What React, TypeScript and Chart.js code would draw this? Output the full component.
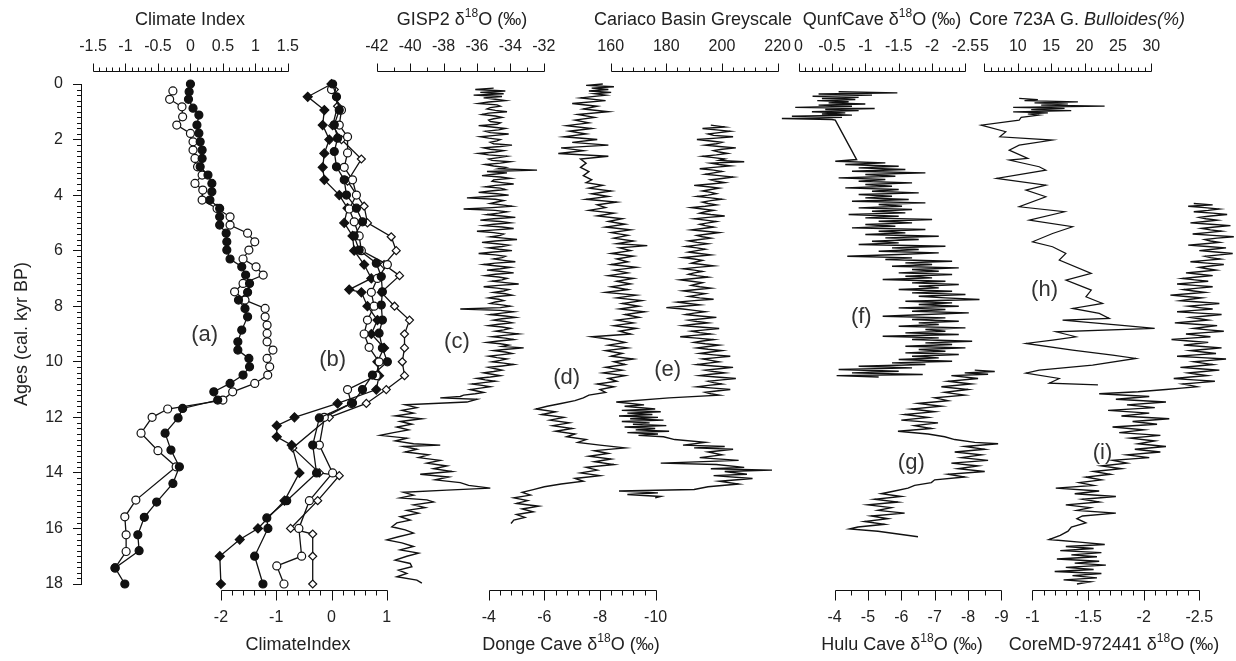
import React, { useEffect, useRef } from 'react';
import { Chart, registerables } from 'chart.js';
Chart.register(...registerables);

type P = [number, number]; // [age (kyr BP), value]

// ---------- (a) Climate Index (top axis) ----------
const climateA_filled: P[] = [[0.0,0.0],[0.28,-0.02],[0.55,-0.03],[0.87,0.04],[1.12,0.13],[1.48,0.1],[1.77,0.13],[2.08,0.15],[2.38,0.18],[2.68,0.18],[2.98,0.15],[3.28,0.27],[3.58,0.33],[3.88,0.33],[4.18,0.3],[4.48,0.45],[4.78,0.45],[5.08,0.45],[5.37,0.55],[5.68,0.56],[5.98,0.56],[6.3,0.61],[6.58,0.79],[6.88,0.85],[7.18,0.91],[7.5,0.88],[7.78,0.74],[8.08,0.84],[8.38,0.88],[8.86,0.79],[9.28,0.73],[9.58,0.73],[9.88,0.9],[10.18,0.91],[10.48,0.81],[10.78,0.61],[11.08,0.36],[11.38,0.42],[11.68,-0.12],[12.02,-0.19],[12.57,-0.39],[13.18,-0.3],[13.78,-0.17],[14.38,-0.27],[15.05,-0.52],[15.6,-0.71],[16.23,-0.81],[16.8,-0.79],[17.42,-1.16],[18.0,-1.01]];
const climateA_open: P[] = [[0.25,-0.27],[0.55,-0.32],[0.82,-0.13],[1.18,-0.12],[1.48,-0.21],[1.78,0.0],[2.08,0.04],[2.38,0.04],[2.68,0.07],[2.98,0.11],[3.28,0.18],[3.58,0.07],[3.82,0.19],[4.18,0.18],[4.48,0.41],[4.78,0.61],[5.08,0.61],[5.37,0.88],[5.68,0.99],[5.98,0.9],[6.3,0.81],[6.58,1.01],[6.88,1.12],[7.18,0.81],[7.48,0.68],[7.78,0.84],[8.08,1.15],[8.38,1.15],[8.68,1.18],[8.98,1.18],[9.28,1.18],[9.58,1.27],[9.88,1.18],[10.18,1.22],[10.48,1.19],[10.78,0.99],[11.08,0.65],[11.38,0.5],[11.7,-0.35],[12.0,-0.59],[12.57,-0.76],[13.2,-0.5],[13.78,-0.22],[14.98,-0.84],[15.58,-1.01],[16.23,-0.99],[16.83,-0.99],[17.42,-1.16]];

// ---------- (b) ClimateIndex (bottom axis) ----------
const climateB_filledCircle: P[] = [[0.0,0.02],[0.46,0.09],[0.94,0.14],[1.47,0.05],[1.95,0.11],[2.43,0.05],[2.98,0.09],[3.45,0.23],[4.0,0.27],[4.47,0.45],[4.96,0.56],[5.47,0.41],[5.98,0.5],[6.45,0.81],[6.93,0.9],[7.48,0.92],[7.96,0.9],[8.5,0.92],[8.97,0.86],[9.5,0.92],[10.0,1.01],[10.48,0.74],[11.0,0.56],[11.48,0.38],[12.02,-0.22],[13.0,-0.34],[14.0,-0.27],[15.0,-0.81],[15.62,-1.17],[16.0,-1.15],[17.0,-1.39],[18.0,-1.24]];
const climateB_openCircle: P[] = [[0.2,0.0],[0.94,0.18],[1.48,0.14],[1.9,0.29],[2.48,0.29],[3.0,0.23],[3.45,0.38],[4.0,0.45],[4.5,0.32],[4.96,0.41],[5.47,0.5],[6.0,0.54],[6.5,1.01],[7.0,0.83],[7.5,0.72],[8.0,0.77],[8.5,0.65],[9.0,0.59],[9.48,0.68],[10.0,0.86],[10.5,0.81],[11.0,0.29],[11.5,0.36],[12.0,-0.13],[13.0,-0.22],[14.0,0.02],[15.0,-0.4],[16.0,-0.59],[17.0,-0.54],[17.35,-0.99],[18.0,-0.86]];
const climateB_filledDiamond: P[] = [[0.0,0.0],[0.46,-0.43],[0.94,-0.13],[1.48,-0.16],[2.0,-0.04],[2.5,-0.13],[3.0,-0.16],[3.45,-0.13],[4.0,0.14],[4.47,0.29],[5.0,0.23],[5.47,0.38],[6.0,0.41],[6.5,0.59],[7.0,0.72],[7.4,0.32],[7.5,0.54],[8.0,0.65],[8.5,0.83],[9.0,0.72],[9.5,0.95],[10.0,0.83],[10.5,0.86],[11.0,0.81],[11.5,0.11],[12.0,-0.67],[12.3,-0.99],[12.7,-0.99],[13.0,-0.72],[14.0,-0.58],[15.0,-0.85],[16.0,-1.33],[16.4,-1.66],[17.0,-2.02],[18.0,-2.0]];
const climateB_openDiamond: P[] = [[0.2,0.05],[0.8,0.11],[1.5,0.02],[2.0,0.18],[2.7,0.54],[3.5,0.29],[4.4,0.59],[5.0,0.65],[5.5,1.08],[6.0,1.17],[6.5,0.95],[6.9,1.23],[7.5,0.9],[8.0,1.14],[8.5,1.41],[9.0,1.32],[9.5,1.32],[10.0,1.28],[10.5,1.32],[11.0,0.99],[11.5,0.63],[12.0,-0.04],[13.1,-0.7],[14.0,-0.22],[14.1,0.14],[15.0,-0.25],[16.0,-0.74],[16.2,-0.34],[17.0,-0.34],[18.0,-0.34]];

// ---------- (c) GISP2 d18O ----------
const gisp2Main: P[] = [[0.15,-35.0],[0.2,-36.1],[0.25,-34.3],[0.3,-35.8],[0.35,-34.4],[0.4,-36.2],[0.45,-34.5],[0.5,-35.6],[0.6,-34.3],[0.7,-35.9],[0.8,-34.6],[0.9,-35.4],[1.0,-34.2],[1.1,-35.7],[1.2,-34.5],[1.3,-35.3],[1.4,-34.6],[1.5,-35.9],[1.6,-34.3],[1.7,-35.5],[1.8,-34.1],[1.9,-35.8],[2.0,-34.6],[2.1,-35.2],[2.2,-33.9],[2.3,-35.6],[2.4,-34.4],[2.5,-35.9],[2.6,-34.2],[2.7,-35.3],[2.8,-34.0],[2.9,-35.5],[3.0,-34.3],[3.1,-32.4],[3.15,-35.4],[3.2,-34.2],[3.3,-35.7],[3.4,-34.0],[3.5,-35.1],[3.6,-33.8],[3.7,-35.5],[3.8,-34.3],[3.9,-35.9],[4.0,-34.1],[4.1,-36.6],[4.2,-34.4],[4.3,-35.2],[4.4,-33.9],[4.5,-36.8],[4.6,-34.2],[4.7,-35.4],[4.8,-33.7],[4.9,-35.8],[5.0,-34.0],[5.1,-35.6],[5.2,-33.8],[5.3,-36.0],[5.4,-34.4],[5.5,-35.2],[5.6,-33.6],[5.7,-35.7],[5.8,-34.1],[5.9,-35.3],[6.0,-33.9],[6.1,-35.9],[6.2,-34.3],[6.3,-35.0],[6.4,-33.7],[6.5,-35.6],[6.6,-34.0],[6.7,-35.4],[6.8,-33.8],[6.9,-35.5],[7.0,-34.2],[7.1,-35.1],[7.2,-33.5],[7.3,-35.6],[7.4,-34.1],[7.5,-35.0],[7.6,-33.9],[7.7,-35.3],[7.8,-34.4],[7.9,-35.2],[8.0,-34.0],[8.1,-37.0],[8.15,-34.6],[8.2,-33.8],[8.3,-35.2],[8.4,-33.7],[8.5,-35.0],[8.6,-33.9],[8.7,-35.3],[8.8,-34.0],[8.9,-34.9],[9.0,-33.5],[9.1,-35.1],[9.2,-33.8],[9.3,-35.4],[9.4,-34.1],[9.5,-33.2],[9.6,-35.0],[9.7,-33.9],[9.8,-35.3],[9.9,-34.2],[10.0,-35.1],[10.1,-33.8],[10.2,-35.3],[10.3,-34.5],[10.4,-35.6],[10.5,-34.6],[10.6,-36.0],[10.7,-34.9],[10.8,-36.3],[10.9,-35.2],[11.0,-36.4],[11.1,-35.6],[11.2,-36.8],[11.3,-38.2],[11.35,-36.0],[11.45,-36.6],[11.55,-40.3],[11.65,-39.6],[11.75,-40.5],[11.85,-39.8],[11.95,-40.9],[12.05,-39.3],[12.15,-40.6],[12.25,-39.9],[12.35,-40.8],[12.45,-40.1],[12.55,-41.0],[12.65,-41.8],[12.75,-40.2],[12.85,-40.9],[12.95,-39.8],[13.0,-38.2],[13.05,-40.4],[13.15,-39.6],[13.25,-40.3],[13.35,-38.9],[13.45,-39.5],[13.55,-38.2],[13.65,-39.0],[13.75,-37.8],[13.85,-38.6],[13.95,-37.5],[14.05,-39.4],[14.15,-37.7],[14.25,-38.5],[14.35,-37.0],[14.45,-36.5],[14.55,-35.2],[14.62,-37.8],[14.7,-40.4],[14.8,-39.8],[14.9,-40.6],[14.97,-39.0],[15.05,-38.6],[15.15,-39.8],[15.25,-39.1],[15.35,-40.2],[15.45,-39.5],[15.58,-40.6],[15.7,-40.0],[15.8,-40.8],[15.94,-41.1],[16.05,-40.3],[16.17,-39.8],[16.3,-40.7],[16.41,-41.4],[16.52,-40.5],[16.65,-39.8],[16.77,-40.6],[16.89,-39.5],[17.0,-40.2],[17.14,-40.9],[17.26,-40.0],[17.38,-39.9],[17.5,-40.7],[17.62,-40.2],[17.74,-40.8],[17.86,-39.6],[17.97,-39.3]];
const gisp2Mid: P[] = [[0.55,-34.9],[0.65,-35.3],[0.75,-34.8],[0.85,-35.2],[0.95,-34.9],[1.05,-35.3],[1.15,-34.9],[1.25,-35.0],[1.35,-35.2],[1.45,-34.8],[1.55,-35.1],[1.65,-34.7],[1.75,-35.2],[1.85,-34.9],[1.95,-35.3],[2.05,-34.8],[2.15,-35.0],[2.25,-34.6],[2.35,-35.2],[2.45,-34.9],[2.55,-35.3],[2.65,-34.7],[2.75,-35.1],[2.85,-34.6],[2.95,-35.0],[3.05,-34.7],[3.25,-35.0],[3.35,-34.6],[3.45,-35.0],[3.55,-34.5],[3.65,-34.9],[3.75,-34.6],[3.85,-35.2],[3.95,-34.8],[4.05,-35.3],[4.15,-34.9],[4.25,-34.8],[4.35,-34.5],[4.45,-35.1],[4.55,-34.9],[4.65,-34.7],[4.75,-34.5],[4.85,-35.0],[4.95,-34.6],[5.05,-35.0],[5.15,-34.5],[5.25,-34.9],[5.35,-35.0],[5.45,-34.6],[5.55,-34.4],[5.65,-34.9],[5.75,-34.8],[5.85,-34.5],[5.95,-34.7],[6.05,-35.0],[6.15,-34.9],[6.25,-34.5],[6.35,-34.4],[6.45,-34.9],[6.55,-34.8],[6.65,-34.6],[6.75,-34.5],[6.85,-34.9],[6.95,-34.7],[7.05,-34.5],[7.15,-34.3],[7.25,-34.7],[7.35,-34.8],[7.45,-34.4],[7.55,-34.3],[7.65,-34.8],[7.75,-34.7],[7.85,-34.9],[7.95,-34.5],[8.05,-34.6],[8.25,-34.5],[8.35,-34.3],[8.45,-34.5],[8.55,-34.3],[8.65,-34.7],[8.75,-34.5],[8.85,-34.4],[8.95,-34.2],[9.05,-34.4],[9.15,-34.3],[9.25,-34.7],[9.35,-34.6],[9.45,-34.5],[9.55,-34.2],[9.65,-34.3],[9.75,-34.6],[9.85,-34.8],[9.95,-34.6],[10.05,-34.4],[10.15,-34.5],[10.25,-34.9],[10.35,-35.0],[10.45,-35.1],[10.55,-35.2],[10.65,-35.5],[10.75,-35.6],[10.85,-35.7],[10.95,-35.8],[11.05,-36.0],[11.15,-36.1],[11.25,-37.0]];

// ---------- (d) Donge Cave d18O ----------
const donge: P[] = [[0.0,-8.1],[0.05,-7.5],[0.1,-8.5],[0.15,-7.7],[0.2,-8.3],[0.25,-7.6],[0.3,-8.4],[0.35,-7.8],[0.4,-8.2],[0.5,-7.3],[0.6,-8.2],[0.7,-7.0],[0.8,-7.9],[0.9,-7.4],[1.0,-8.3],[1.1,-7.2],[1.2,-7.8],[1.3,-7.1],[1.4,-7.6],[1.5,-6.8],[1.6,-7.7],[1.7,-6.9],[1.8,-7.5],[1.9,-6.7],[2.0,-7.9],[2.1,-7.0],[2.2,-8.3],[2.3,-6.6],[2.4,-7.4],[2.5,-6.5],[2.6,-8.3],[2.7,-7.3],[2.85,-7.5],[3.0,-7.3],[3.15,-7.6],[3.3,-7.4],[3.45,-7.7],[3.55,-7.5],[3.65,-8.1],[3.75,-7.6],[3.85,-8.4],[3.95,-7.7],[4.05,-8.3],[4.15,-7.5],[4.25,-8.6],[4.35,-7.9],[4.45,-8.2],[4.55,-7.6],[4.65,-8.5],[4.75,-7.9],[4.85,-8.8],[4.95,-8.3],[5.05,-8.9],[5.15,-8.2],[5.25,-9.1],[5.35,-8.4],[5.45,-9.0],[5.55,-8.5],[5.65,-9.2],[5.75,-8.6],[5.82,-9.7],[5.9,-8.7],[6.0,-9.1],[6.1,-8.4],[6.2,-9.2],[6.3,-8.6],[6.4,-9.0],[6.5,-8.4],[6.6,-9.3],[6.7,-8.5],[6.8,-9.0],[6.9,-8.3],[7.0,-9.2],[7.1,-8.6],[7.2,-9.1],[7.3,-8.4],[7.4,-9.0],[7.5,-8.2],[7.6,-9.3],[7.7,-8.6],[7.8,-9.5],[7.9,-8.8],[8.0,-9.4],[8.1,-8.7],[8.2,-9.6],[8.3,-8.9],[8.4,-9.4],[8.5,-8.6],[8.6,-9.2],[8.7,-8.5],[8.8,-9.3],[8.9,-8.7],[9.0,-9.1],[9.1,-7.7],[9.2,-8.4],[9.3,-8.9],[9.4,-8.3],[9.5,-9.0],[9.6,-8.2],[9.7,-8.8],[9.8,-8.4],[9.9,-9.2],[10.0,-8.5],[10.1,-8.9],[10.2,-8.2],[10.3,-8.8],[10.4,-8.1],[10.5,-8.9],[10.6,-8.3],[10.7,-8.6],[10.8,-7.9],[10.9,-8.5],[11.0,-8.0],[11.1,-8.2],[11.2,-7.6],[11.3,-7.4],[11.4,-7.1],[11.5,-6.6],[11.6,-6.1],[11.7,-5.7],[11.8,-6.4],[11.9,-5.9],[12.0,-6.7],[12.1,-6.2],[12.2,-6.9],[12.3,-6.3],[12.4,-7.0],[12.5,-6.4],[12.6,-7.1],[12.7,-6.8],[12.8,-7.5],[12.9,-7.2],[13.0,-8.0],[13.1,-8.9],[13.2,-7.8],[13.3,-8.3],[13.4,-7.6],[13.5,-8.4],[13.6,-7.8],[13.7,-8.5],[13.8,-7.5],[13.9,-7.9],[14.0,-7.3],[14.1,-8.0],[14.2,-7.1],[14.3,-7.4],[14.4,-6.6],[14.5,-6.0],[14.6,-5.6],[14.7,-5.2],[14.8,-5.5],[14.9,-4.9],[15.0,-5.4],[15.1,-5.0],[15.2,-5.8],[15.3,-5.2],[15.4,-5.6],[15.5,-5.0],[15.6,-5.3],[15.7,-4.9],[15.82,-4.8]];

// ---------- (e) Cariaco Basin greyscale ----------
const cariacoMain: P[] = [[1.48,196],[1.55,201],[1.6,193],[1.7,203],[1.8,195],[1.9,204],[2.0,191],[2.1,200],[2.2,194],[2.3,205],[2.4,197],[2.5,202],[2.6,193],[2.7,201],[2.8,208],[2.85,196],[2.95,203],[3.05,192],[3.15,200],[3.25,194],[3.35,204],[3.45,196],[3.55,201],[3.65,190],[3.75,199],[3.85,193],[3.95,198],[4.05,191],[4.15,200],[4.25,193],[4.35,198],[4.45,189],[4.55,197],[4.65,192],[4.75,201],[4.85,190],[4.95,198],[5.05,192],[5.15,197],[5.25,189],[5.35,199],[5.45,191],[5.55,196],[5.65,188],[5.75,195],[5.85,187],[5.95,194],[6.05,188],[6.15,196],[6.25,186],[6.35,193],[6.45,189],[6.55,197],[6.65,186],[6.75,193],[6.85,188],[6.95,195],[7.05,185],[7.15,193],[7.25,189],[7.35,196],[7.45,186],[7.55,194],[7.65,188],[7.75,197],[7.85,184],[7.95,192],[8.05,180],[8.1,186],[8.2,194],[8.3,187],[8.4,198],[8.5,188],[8.6,195],[8.7,186],[8.8,199],[8.9,189],[9.0,196],[9.1,185],[9.2,197],[9.3,190],[9.4,199],[9.5,191],[9.6,200],[9.7,192],[9.8,203],[9.9,193],[10.0,199],[10.1,191],[10.2,204],[10.3,194],[10.4,201],[10.5,192],[10.6,205],[10.7,195],[10.8,200],[10.9,191],[11.0,203],[11.1,194],[11.2,199],[11.3,181],[11.45,162],[11.55,172],[11.6,165],[11.7,176],[11.75,164],[11.8,178],[11.85,166],[11.9,175],[11.95,163],[12.0,177],[12.05,167],[12.1,179],[12.15,164],[12.2,174],[12.25,168],[12.3,180],[12.35,165],[12.4,176],[12.45,169],[12.5,181],[12.55,166],[12.6,177],[12.65,170],[12.7,179],[12.8,183],[12.9,194],[13.0,186],[13.05,201],[13.1,190],[13.15,204],[13.25,195],[13.35,200],[13.45,192],[13.55,206],[13.65,178],[13.7,198],[13.8,208],[13.85,196],[13.9,218],[13.95,201],[14.05,209],[14.1,197],[14.2,211],[14.3,199],[14.4,206],[14.5,195],[14.6,190],[14.65,163],[14.72,177],[14.78,166],[14.85,178],[14.9,176]];
const cariacoMid: P[] = [[1.65,198],[1.75,199],[1.85,197],[1.95,198],[2.05,196],[2.15,198],[2.25,199],[2.35,200],[2.45,199],[2.55,198],[2.65,197],[2.75,199],[2.9,199],[3.0,197],[3.1,197],[3.2,197],[3.3,199],[3.4,200],[3.5,198],[3.6,196],[3.7,195],[3.8,196],[3.9,196],[4.0,195],[4.1,196],[4.2,196],[4.3,195],[4.4,194],[4.5,193],[4.6,194],[4.7,196],[4.8,195],[4.9,194],[5.0,195],[5.1,194],[5.2,193],[5.3,194],[5.4,195],[5.5,193],[5.6,192],[5.7,191],[5.8,191],[5.9,191],[6.0,191],[6.1,192],[6.2,191],[6.3,190],[6.4,191],[6.5,193],[6.6,191],[6.7,190],[6.8,190],[6.9,191],[7.0,190],[7.1,189],[7.2,191],[7.3,192],[7.4,191],[7.5,190],[7.6,191],[7.7,192],[7.8,190],[7.9,188],[8.0,186],[8.15,190],[8.25,190],[8.35,192],[8.45,193],[8.55,191],[8.65,190],[8.75,192],[8.85,194],[8.95,192],[9.05,190],[9.15,191],[9.25,193],[9.35,194],[9.45,195],[9.55,195],[9.65,196],[9.75,197],[9.85,198],[9.95,196],[10.05,195],[10.15,197],[10.25,199],[10.35,197],[10.45,196],[10.55,198],[10.65,200],[10.75,197],[10.85,195],[10.95,197],[11.05,198],[11.15,196]];

// ---------- (f) Qunf Cave d18O ----------
const qunf: P[] = [[0.28,-0.6],[0.32,-1.48],[0.36,-0.3],[0.4,-1.1],[0.44,-0.21],[0.48,-0.9],[0.52,-0.35],[0.56,-0.85],[0.6,-0.28],[0.64,-0.75],[0.68,-0.45],[0.72,-1.0],[0.76,-0.3],[0.8,-0.8],[0.84,0.05],[0.88,-1.14],[0.92,-0.4],[0.96,-0.9],[1.0,-0.2],[1.04,-0.7],[1.08,-0.35],[1.12,-0.8],[1.16,0.1],[1.2,-0.65],[1.24,0.25],[1.28,-0.5],[1.3,-0.55],[2.72,-0.87],[2.78,-0.55],[2.84,-1.3],[2.9,-0.7],[2.96,-1.5],[3.02,-0.9],[3.08,-1.6],[3.14,-0.8],[3.2,-1.9],[3.26,-1.0],[3.32,-1.45],[3.38,-0.6],[3.44,-1.3],[3.5,-0.9],[3.56,-1.7],[3.62,-1.0],[3.68,-1.4],[3.74,-0.7],[3.8,-1.5],[3.86,-1.1],[3.92,-1.8],[3.98,-0.9],[4.04,-1.4],[4.1,-1.0],[4.16,-1.65],[4.22,-0.8],[4.28,-1.9],[4.34,-1.2],[4.4,-1.55],[4.46,-0.9],[4.52,-1.7],[4.58,-1.1],[4.64,-1.6],[4.7,-0.75],[4.76,-1.5],[4.82,-1.0],[4.88,-2.0],[4.94,-1.2],[5.0,-1.7],[5.06,-1.0],[5.12,-1.45],[5.18,-0.8],[5.24,-1.9],[5.3,-1.2],[5.36,-1.6],[5.42,-1.0],[5.48,-2.1],[5.54,-1.3],[5.6,-1.8],[5.66,-1.1],[5.72,-1.5],[5.78,-0.9],[5.84,-2.2],[5.9,-1.4],[5.96,-1.8],[6.02,-1.2],[6.08,-2.1],[6.14,-1.5],[6.2,-0.73],[6.26,-1.7],[6.32,-1.3],[6.38,-2.3],[6.44,-1.6],[6.5,-2.0],[6.56,-1.4],[6.62,-2.4],[6.68,-1.7],[6.74,-2.1],[6.8,-1.5],[6.86,-2.3],[6.92,-1.6],[6.98,-2.0],[7.04,-1.26],[7.1,-2.2],[7.16,-1.7],[7.22,-2.4],[7.28,-1.8],[7.34,-2.1],[7.4,-1.5],[7.46,-2.3],[7.52,-1.7],[7.58,-2.5],[7.64,-1.8],[7.7,-2.2],[7.76,-2.71],[7.82,-1.6],[7.88,-2.3],[7.94,-1.8],[8.0,-2.4],[8.06,-1.5],[8.12,-2.2],[8.18,-1.7],[8.24,-2.55],[8.3,-1.9],[8.36,-1.26],[8.42,-2.2],[8.48,-1.7],[8.54,-2.4],[8.6,-1.8],[8.66,-2.1],[8.72,-1.5],[8.78,-2.5],[8.84,-1.9],[8.9,-2.2],[8.96,-1.6],[9.02,-2.4],[9.08,-1.26],[9.14,-2.1],[9.2,-1.7],[9.26,-2.6],[9.32,-1.9],[9.38,-2.3],[9.44,-1.6],[9.5,-2.5],[9.56,-1.8],[9.62,-2.2],[9.68,-1.6],[9.74,-2.4],[9.8,-1.7],[9.86,-2.1],[9.92,-1.5],[9.98,-2.3],[10.04,-1.4],[10.1,-1.9],[10.16,-0.9],[10.22,-1.7],[10.28,-0.6],[10.34,-1.5],[10.4,-0.8],[10.46,-1.86],[10.5,-0.57],[10.55,-1.2]];

// ---------- (g) Hulu Cave d18O ----------
const hulu: P[] = [[10.3,-8.2],[10.35,-8.8],[10.4,-7.9],[10.45,-8.6],[10.5,-7.5],[10.6,-8.3],[10.7,-7.4],[10.8,-8.1],[10.9,-7.2],[11.0,-8.0],[11.1,-7.3],[11.2,-7.9],[11.3,-7.0],[11.4,-7.4],[11.5,-6.5],[11.6,-7.2],[11.7,-6.3],[11.8,-7.0],[11.9,-6.1],[12.0,-6.8],[12.1,-6.0],[12.2,-7.1],[12.3,-6.4],[12.4,-6.9],[12.5,-5.9],[12.6,-6.8],[12.7,-7.3],[12.8,-7.6],[12.9,-8.2],[12.95,-8.9],[13.05,-7.9],[13.15,-8.5],[13.25,-7.6],[13.35,-8.4],[13.45,-7.8],[13.55,-8.6],[13.65,-7.5],[13.75,-8.3],[13.85,-7.7],[13.95,-8.5],[14.05,-7.4],[14.15,-7.9],[14.25,-7.0],[14.35,-6.9],[14.45,-6.4],[14.55,-6.2],[14.65,-5.8],[14.75,-5.4],[14.85,-6.0],[14.95,-5.2],[15.05,-5.9],[15.15,-5.0],[15.25,-5.7],[15.35,-5.3],[15.45,-6.1],[15.55,-5.1],[15.65,-5.6],[15.75,-4.9],[15.85,-5.5],[15.95,-4.7],[16.02,-4.45],[16.1,-5.3],[16.2,-5.9],[16.3,-6.5]];

// ---------- (h) Core 723A G. bulloides (%) ----------
const bulloides: P[] = [[0.52,10.2],[0.56,13.0],[0.6,11.0],[0.64,19.0],[0.68,12.5],[0.72,17.5],[0.76,13.5],[0.8,23.0],[0.84,9.3],[0.88,17.0],[0.92,12.0],[0.96,18.0],[1.0,9.3],[1.04,14.5],[1.08,11.5],[1.12,13.2],[1.2,10.5],[1.3,10.2],[1.48,4.5],[1.72,8.2],[1.9,7.3],[2.02,15.2],[2.2,10.2],[2.38,8.7],[2.68,11.5],[2.74,8.7],[2.98,13.2],[3.1,14.2],[3.4,6.8],[3.64,14.2],[3.82,11.2],[4.06,14.2],[4.42,10.2],[4.6,17.0],[4.9,11.7],[5.14,18.2],[5.38,15.2],[5.68,12.2],[5.86,15.2],[6.1,17.2],[6.34,16.2],[6.82,21.0],[7.06,17.2],[7.42,21.0],[7.66,20.2],[7.9,22.7],[8.08,18.2],[8.26,22.2],[8.44,23.7],[8.5,16.7],[8.68,25.2],[8.8,30.5],[8.92,15.7],[9.1,18.7],[9.22,15.2],[9.34,11.2],[9.58,18.2],[9.76,24.2],[9.88,27.7],[10.12,21.2],[10.3,13.2],[10.41,11.2],[10.6,16.2],[10.77,14.7],[10.83,22.0]];

// ---------- (i) Core MD-972441 d18O ----------
const coreMDMain: P[] = [[4.3,-2.45],[4.35,-2.62],[4.4,-2.4],[4.5,-2.68],[4.6,-2.45],[4.7,-2.75],[4.8,-2.5],[4.9,-2.66],[5.0,-2.42],[5.1,-2.78],[5.2,-2.52],[5.3,-2.7],[5.4,-2.44],[5.5,-2.81],[5.6,-2.55],[5.7,-2.68],[5.8,-2.4],[5.9,-2.74],[6.0,-2.5],[6.1,-2.8],[6.2,-2.55],[6.3,-2.69],[6.4,-2.42],[6.5,-2.72],[6.6,-2.5],[6.7,-2.65],[6.8,-2.38],[6.9,-2.62],[7.0,-2.35],[7.1,-2.58],[7.2,-2.3],[7.3,-2.62],[7.4,-2.36],[7.5,-2.55],[7.6,-2.24],[7.7,-2.52],[7.8,-2.33],[7.9,-2.68],[8.0,-2.4],[8.1,-2.62],[8.2,-2.3],[8.3,-2.7],[8.4,-2.42],[8.5,-2.58],[8.6,-2.28],[8.7,-2.66],[8.8,-2.45],[8.9,-2.72],[9.0,-2.38],[9.1,-2.6],[9.2,-2.25],[9.3,-2.58],[9.4,-2.36],[9.5,-2.7],[9.6,-2.42],[9.7,-2.65],[9.8,-2.3],[9.9,-2.74],[10.0,-2.45],[10.1,-2.62],[10.2,-2.33],[10.3,-2.68],[10.4,-2.4],[10.5,-2.57],[10.6,-2.27],[10.7,-2.64],[10.8,-2.35],[10.9,-2.48],[11.0,-2.2],[11.08,-1.95],[11.15,-1.6],[11.25,-2.05],[11.35,-1.75],[11.45,-2.2],[11.55,-1.85],[11.65,-2.1],[11.75,-1.68],[11.85,-2.05],[11.95,-1.8],[12.05,-2.23],[12.15,-1.9],[12.25,-2.12],[12.35,-1.72],[12.45,-2.0],[12.55,-1.78],[12.65,-2.15],[12.75,-1.88],[12.85,-2.1],[12.95,-1.95],[13.05,-2.2],[13.15,-1.92],[13.25,-2.15],[13.35,-1.85],[13.45,-2.05],[13.55,-1.72],[13.65,-1.85],[13.75,-1.62],[13.85,-1.8],[13.95,-1.55],[14.05,-1.7],[14.15,-1.48],[14.25,-1.62],[14.35,-1.42],[14.45,-1.55],[14.55,-1.21],[14.65,-1.6],[14.75,-1.38],[14.85,-1.75],[14.95,-1.45],[15.05,-1.6],[15.15,-1.3],[15.25,-1.52],[15.35,-1.4],[15.45,-1.75],[15.55,-1.45],[15.65,-1.4],[15.8,-1.48],[15.95,-1.35],[16.1,-1.32],[16.25,-1.25],[16.4,-1.15],[16.5,-1.45],[16.58,-1.65],[16.65,-1.3],[16.72,-1.55],[16.8,-1.25],[16.87,-1.62],[16.95,-1.35],[17.02,-1.58],[17.1,-1.22],[17.18,-1.6],[17.25,-1.38],[17.32,-1.66],[17.4,-1.3],[17.48,-1.55],[17.55,-1.2],[17.62,-1.62],[17.7,-1.36],[17.78,-1.58],[17.85,-1.28],[17.92,-1.52],[18.0,-1.4]];
const coreMDMid: P[] = [[4.45,-2.55],[4.55,-2.58],[4.65,-2.62],[4.75,-2.6],[4.85,-2.56],[4.95,-2.55],[5.05,-2.6],[5.15,-2.64],[5.25,-2.6],[5.35,-2.57],[5.45,-2.62],[5.55,-2.66],[5.65,-2.6],[5.75,-2.55],[5.85,-2.57],[5.95,-2.62],[6.05,-2.65],[6.15,-2.68],[6.25,-2.6],[6.35,-2.56],[6.45,-2.57],[6.55,-2.6],[6.65,-2.57],[6.75,-2.52],[6.85,-2.5],[6.95,-2.48],[7.05,-2.46],[7.15,-2.44],[7.25,-2.46],[7.35,-2.49],[7.45,-2.45],[7.55,-2.4],[7.65,-2.38],[7.75,-2.42],[7.85,-2.5],[7.95,-2.54],[8.05,-2.5],[8.15,-2.46],[8.25,-2.5],[8.35,-2.56],[8.45,-2.5],[8.55,-2.43],[8.65,-2.47],[8.75,-2.55],[8.85,-2.58],[8.95,-2.55],[9.05,-2.49],[9.15,-2.42],[9.25,-2.41],[9.35,-2.47],[9.45,-2.53],[9.55,-2.56],[9.65,-2.53],[9.75,-2.47],[9.85,-2.52],[9.95,-2.6],[10.05,-2.53],[10.15,-2.48],[10.25,-2.5],[10.35,-2.54],[10.45,-2.48],[10.55,-2.42],[10.65,-2.45],[10.75,-2.5],[10.85,-2.42],[10.95,-2.34]];

// ---------- tick labels ----------
const ticksClimateTop = [-1.5, -1, -0.5, 0, 0.5, 1, 1.5];
const ticksGisp2 = [-42, -40, -38, -36, -34, -32];
const ticksCariaco = [160, 180, 200, 220];
const ticksQunf = [0, -0.5, -1, -1.5, -2, -2.5];
const ticksBulloides = [5, 10, 15, 20, 25, 30];
const ticksClimateBottom = [-2, -1, 0, 1];
const ticksDonge = [-4, -6, -8, -10];
const ticksHulu = [-4, -5, -6, -7, -8, -9];
const ticksCoreMD = [-1, -1.5, -2, -2.5];
const ageTicks = [0, 2, 4, 6, 8, 10, 12, 14, 16, 18];

// ---------- layout ----------
const FONT = "'Liberation Sans', Arial, Helvetica, sans-serif";
const W = 1236, H = 661;
const AREA_L = 81, AREA_R = 1231, AREA_T = 84, AREA_B = 584;
const TEXT = '#222';
const INK = '#111';

type Seg = { t: string; sup?: boolean; it?: boolean };
type AxisCfg = { id: string; side: 'top' | 'bottom'; p1: number; p2: number; ticks: number[]; minor: number; title: Seg[]; titleX: number };

const d18 = (pre: string): Seg[] => [{ t: pre + ' δ' }, { t: '18', sup: true }, { t: 'O (‰)' }];

const AXES: AxisCfg[] = [
  { id: 'xa', side: 'top', p1: 93, p2: 288, ticks: ticksClimateTop, minor: 0.1, title: [{ t: 'Climate Index' }], titleX: 190 },
  { id: 'xc', side: 'top', p1: 377, p2: 544, ticks: ticksGisp2, minor: 1, title: d18('GISP2'), titleX: 462 },
  { id: 'xe', side: 'top', p1: 611, p2: 778, ticks: ticksCariaco, minor: 4, title: [{ t: 'Cariaco Basin Greyscale' }], titleX: 693 },
  { id: 'xf', side: 'top', p1: 799, p2: 966, ticks: ticksQunf, minor: 0.1, title: d18('QunfCave'), titleX: 882 },
  { id: 'xh', side: 'top', p1: 985, p2: 1152, ticks: ticksBulloides, minor: 1, title: [{ t: 'Core 723A G. ' }, { t: 'Bulloides(%)', it: true }], titleX: 1077 },
  { id: 'xb', side: 'bottom', p1: 221, p2: 387, ticks: ticksClimateBottom, minor: 0.2, title: [{ t: 'ClimateIndex' }], titleX: 298 },
  { id: 'xd', side: 'bottom', p1: 489, p2: 656, ticks: ticksDonge, minor: 0.4, title: d18('Donge Cave'), titleX: 571 },
  { id: 'xg', side: 'bottom', p1: 835, p2: 1002, ticks: ticksHulu, minor: 0.5, title: d18('Hulu Cave'), titleX: 902 },
  { id: 'xi', side: 'bottom', p1: 1033, p2: 1200, ticks: ticksCoreMD, minor: 0.1, title: d18('CoreMD-972441'), titleX: 1114 },
];

const PANEL_LABELS = [
  { text: '(a)', axis: 'xa', x: 0.22, age: 9.04 },
  { text: '(b)', axis: 'xb', x: 0.02, age: 9.94 },
  { text: '(c)', axis: 'xc', x: -37.2, age: 9.29 },
  { text: '(d)', axis: 'xd', x: -6.8, age: 10.58 },
  { text: '(e)', axis: 'xe', x: 180.5, age: 10.3 },
  { text: '(f)', axis: 'xf', x: -0.94, age: 8.39 },
  { text: '(g)', axis: 'xg', x: -6.3, age: 13.64 },
  { text: '(h)', axis: 'xh', x: 14.0, age: 7.42 },
  { text: '(i)', axis: 'xi', x: -1.63, age: 13.28 },
];

const byAge = (a: P, b: P) => a[0] - b[0];
const gisp2 = [...gisp2Main, ...gisp2Mid].sort(byAge);
const cariaco = [...cariacoMain, ...cariacoMid].sort(byAge);
const coreMD = [...coreMDMain, ...coreMDMid].sort(byAge);

function scaleOpts(a: AxisCfg) {
  const v1 = a.ticks[0], v2 = a.ticks[a.ticks.length - 1];
  const s = (v2 - v1) / (a.p2 - a.p1);
  const vL = v1 + s * (AREA_L - a.p1);
  const vR = v1 + s * (AREA_R - a.p1);
  const rev = vL > vR;
  return {
    type: 'linear', axis: 'x', display: false, position: a.side,
    min: Math.min(vL, vR), max: Math.max(vL, vR), reverse: rev,
  };
}

function drawRich(ctx: CanvasRenderingContext2D, segs: Seg[], cx: number, cy: number, size: number) {
  const fontOf = (s: Seg) => `${s.it ? 'italic ' : ''}${s.sup ? Math.round(size * 0.68) : size}px ${FONT}`;
  let total = 0;
  for (const s of segs) { ctx.font = fontOf(s); total += ctx.measureText(s.t).width; }
  let x = cx - total / 2;
  ctx.textAlign = 'left';
  ctx.textBaseline = 'middle';
  for (const s of segs) {
    ctx.font = fontOf(s);
    ctx.fillText(s.t, x, s.sup ? cy - size * 0.33 : cy);
    x += ctx.measureText(s.t).width;
  }
}

const axesPlugin = {
  id: 'paleoAxes',
  afterDraw(chart: any) {
    const ctx: CanvasRenderingContext2D = chart.ctx;
    ctx.save();
    ctx.strokeStyle = INK;
    ctx.fillStyle = TEXT;
    ctx.lineWidth = 1;
    for (const a of AXES) {
      const sc = chart.scales[a.id];
      const top = a.side === 'top';
      const y0 = top ? 71 : 590;
      const dir = top ? -1 : 1;
      const majorLen = top ? 8 : 10;
      const minorLen = top ? 4 : 5;
      const from = a.ticks[0], to = a.ticks[a.ticks.length - 1];
      const xa = sc.getPixelForValue(from), xb = sc.getPixelForValue(to);
      ctx.beginPath();
      ctx.moveTo(Math.round(xa) + 0.5, y0 + 0.5);
      ctx.lineTo(Math.round(xb) + 0.5, y0 + 0.5);
      const n = Math.round(Math.abs(to - from) / a.minor);
      const sgn = to > from ? 1 : -1;
      for (let i = 0; i <= n; i++) {
        const v = from + sgn * i * a.minor;
        const major = a.ticks.some((t) => Math.abs(t - v) < 1e-6);
        const px = Math.round(sc.getPixelForValue(v)) + 0.5;
        ctx.moveTo(px, y0 + 0.5);
        ctx.lineTo(px, y0 + 0.5 + dir * (major ? majorLen : minorLen));
      }
      ctx.stroke();
      ctx.font = `16px ${FONT}`;
      ctx.textAlign = 'center';
      ctx.textBaseline = 'middle';
      for (const t of a.ticks) {
        ctx.fillText(String(t), sc.getPixelForValue(t), top ? 47 : 618);
      }
      drawRich(ctx, a.title, a.titleX, top ? 20 : 645, 18);
    }
    // minor ticks on age axis
    const ys = chart.scales.y;
    ctx.beginPath();
    for (let i = 0; i <= 90; i++) {
      if (i % 10 === 0) continue;
      const py = Math.round(ys.getPixelForValue(i * 0.2)) + 0.5;
      ctx.moveTo(AREA_L - 4, py);
      ctx.lineTo(AREA_L, py);
    }
    ctx.stroke();
    // panel labels
    ctx.font = `22px ${FONT}`;
    ctx.fillStyle = '#333';
    ctx.textAlign = 'center';
    ctx.textBaseline = 'middle';
    for (const l of PANEL_LABELS) {
      ctx.fillText(l.text, chart.scales[l.axis].getPixelForValue(l.x), ys.getPixelForValue(l.age));
    }
    ctx.restore();
  },
};

const toXY = (arr: P[]) => arr.map(([age, v]) => ({ x: v, y: age }));

export default function App() {
  const ref = useRef<HTMLCanvasElement | null>(null);
  useEffect(() => {
    if (!ref.current) return;
    Chart.defaults.font.family = FONT;
    const base = { yAxisID: 'y', borderColor: INK, borderWidth: 1.4, pointRadius: 0, fill: false, tension: 0, clip: false as any };
    const marked = (arr: P[], axis: string, style: string, filled: boolean, r: number) => ({
      ...base, xAxisID: axis, data: toXY(arr), borderWidth: 1.3,
      pointStyle: style, pointRadius: r, pointBorderWidth: 1.2,
      pointBackgroundColor: filled ? INK : '#fff', pointBorderColor: INK,
    });
    const scales: any = {
      y: {
        type: 'linear', position: 'left', min: 0, max: 18, reverse: true,
        afterFit: (s: any) => { s.width = AREA_L; },
        afterBuildTicks: (s: any) => { s.ticks = ageTicks.map((v) => ({ value: v })); },
        ticks: { stepSize: 2, color: TEXT, font: { size: 16 }, padding: 10 },
        grid: { drawOnChartArea: false, drawTicks: true, tickLength: 8, color: INK, lineWidth: 1 },
        border: { display: true, color: INK, width: 1 },
        title: { display: true, text: 'Ages (cal. kyr BP)', color: TEXT, font: { size: 18 }, padding: { top: 11, bottom: 0 } },
      },
    };
    for (const a of AXES) scales[a.id] = scaleOpts(a);
    const chart = new Chart(ref.current, {
      type: 'line',
      data: {
        datasets: [
          marked(climateA_filled, 'xa', 'circle', true, 4),
          marked(climateA_open, 'xa', 'circle', false, 4),
          marked(climateB_filledCircle, 'xb', 'circle', true, 4),
          marked(climateB_openCircle, 'xb', 'circle', false, 4),
          marked(climateB_filledDiamond, 'xb', 'rectRot', true, 4.5),
          marked(climateB_openDiamond, 'xb', 'rectRot', false, 4),
          { ...base, xAxisID: 'xc', data: toXY(gisp2) },
          { ...base, xAxisID: 'xd', data: toXY(donge) },
          { ...base, xAxisID: 'xe', data: toXY(cariaco) },
          { ...base, xAxisID: 'xf', data: toXY(qunf) },
          { ...base, xAxisID: 'xg', data: toXY(hulu) },
          { ...base, xAxisID: 'xh', data: toXY(bulloides), borderWidth: 1.2 },
          { ...base, xAxisID: 'xi', data: toXY(coreMD) },
        ] as any,
      },
      options: {
        responsive: false,
        animation: false,
        events: [],
        layout: { padding: { left: 0, right: W - AREA_R, top: AREA_T, bottom: H - AREA_B } },
        plugins: { legend: { display: false }, tooltip: { enabled: false } },
        scales,
      } as any,
      plugins: [axesPlugin],
    });
    return () => chart.destroy();
  }, []);
  return (
    <div style={{ position: 'fixed', left: 0, top: 0, width: W, height: H, background: '#fff' }}>
      <canvas ref={ref} width={W} height={H} style={{ display: 'block', width: W, height: H }} />
    </div>
  );
}
